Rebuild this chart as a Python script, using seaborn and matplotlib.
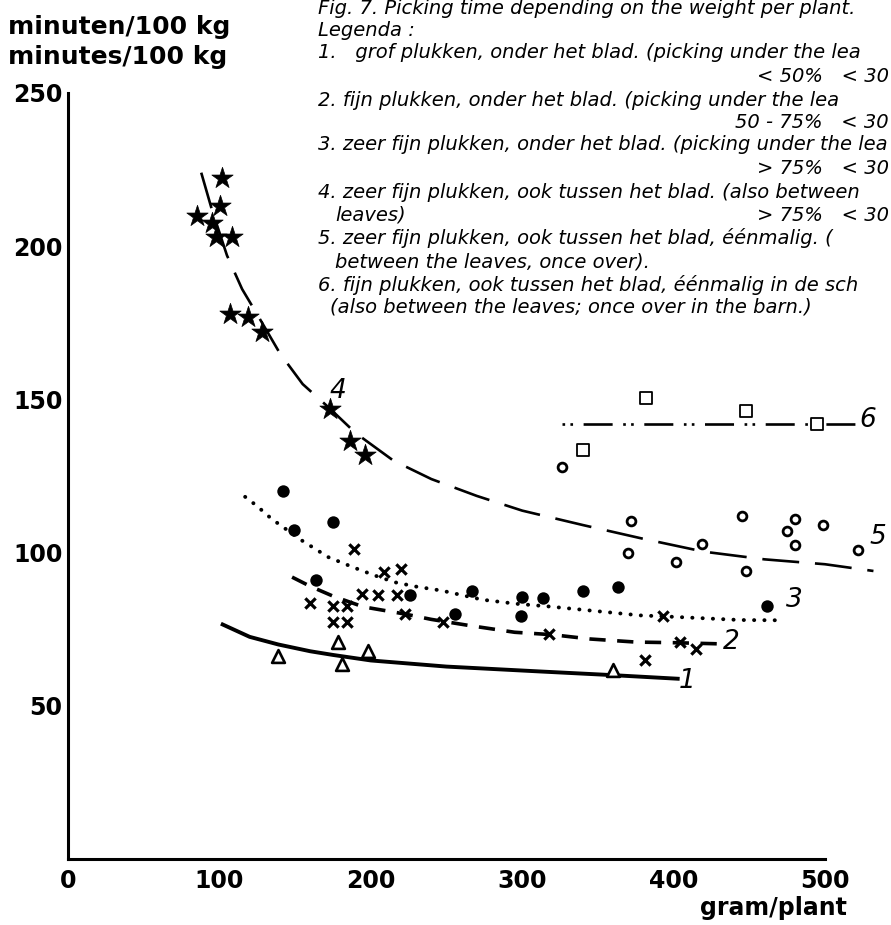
import numpy as np
import pandas as pd
import matplotlib
matplotlib.use("Agg")
import matplotlib.pyplot as plt
import seaborn as sns

# ---------------- data ----------------
# 1: grof plukken (triangles, solid curve)
s1_x = [139, 178.5, 181, 198, 360]
s1_y = [66.2, 70.8, 63.5, 67.8, 61.6]
c1_x = [101, 120, 139, 160, 175, 200, 250, 312, 360, 404]
c1_y = [76.8, 72.5, 70.0, 67.8, 66.6, 64.8, 62.8, 61.2, 60.0, 58.8]

# 2: fijn plukken (x markers, dashed curve)
s2_x = [160, 175, 184.5, 175, 184.5, 189, 194, 205, 208.7, 217, 220, 222.6, 248, 318, 381, 393, 404, 415]
s2_y = [83.6, 82.7, 82.7, 77.3, 77.3, 101.2, 86.5, 86.3, 93.8, 86.0, 94.7, 80.0, 77.5, 73.5, 64.8, 79.2, 70.8, 68.6]
c2_x = [148, 160, 175, 195, 222, 240, 265, 295, 320, 345, 375, 400, 432]
c2_y = [92.0, 89.0, 85.8, 82.3, 80.0, 78.2, 76.2, 74.0, 73.2, 71.8, 70.8, 70.6, 70.2]

# 3: zeer fijn, onder het blad (filled circles, dotted curve)
s3_x = [142, 149.5, 175, 164, 226, 255.6, 266.6, 299.7, 299, 314, 340, 363.5, 461.5]
s3_y = [120.2, 107.4, 110.0, 90.9, 86.0, 80.0, 87.4, 85.4, 79.3, 85.2, 87.6, 88.7, 82.7]
c3_x = [117, 124.6, 134.5, 154, 172, 188.4, 202.8, 216, 230, 246.8, 274, 296, 318, 378, 393, 444, 472.5]
c3_y = [118.2, 115.3, 111.0, 104.1, 98.5, 95.2, 92.5, 90.3, 88.9, 87.6, 84.6, 83.3, 82.4, 79.5, 79.2, 78.0, 77.9]

# 4: zeer fijn, ook tussen het blad (stars) ; 4/5 long-dash curve
s4_x = [101.5, 100.4, 85, 95, 98, 108, 107, 119, 128, 173, 186, 196]
s4_y = [222.3, 213.0, 209.8, 207.6, 203.0, 203.0, 177.8, 177.0, 172.0, 147.0, 136.5, 132.0]
c4_x = [88, 95, 105, 115, 125, 140, 155, 173, 190, 215, 240, 270, 300, 340, 380, 420, 460, 500, 532]
c4_y = [224, 212, 197, 186, 177.7, 165, 155, 147, 139, 130, 124, 118.5, 113.7, 109, 104.5, 100.3, 97.8, 96.2, 94]

# 5: eenmalig (open circles)
s5_x = [326, 372, 370, 401.6, 418.5, 445, 448, 480, 475, 480, 498.5, 522]
s5_y = [127.8, 110.2, 100.0, 96.8, 102.8, 112.0, 93.9, 111.0, 107.0, 102.6, 109.0, 100.9]

# 6: in de schuur (open squares, dash-dot-dot line)
s6_x = [340, 382, 448, 495]
s6_y = [133.4, 150.6, 146.2, 142.1]
c6_x = [326, 520]
c6_y = [142, 142]

# curve labels
lab_text = ["1", "2", "3", "4", "5", "6"]
lab_x = [409, 438, 480, 178, 535, 528.5]
lab_y = [58, 70.8, 84.4, 152.8, 105, 143.3]

x_ticks = [0, 100, 200, 300, 400, 500]
y_ticks = [50, 100, 150, 200, 250]

legend_lines = [
    "Fig. 7. Picking time depending on the weight per plant.",
    "Legenda :",
    "1.   grof plukken, onder het blad. (picking under the lea",
    "2. fijn plukken, onder het blad. (picking under the lea",
    "3. zeer fijn plukken, onder het blad. (picking under the lea",
    "4. zeer fijn plukken, ook tussen het blad. (also between",
    "leaves)",
    "5. zeer fijn plukken, ook tussen het blad, éénmalig. (",
    "between the leaves, once over).",
    "6. fijn plukken, ook tussen het blad, éénmalig in de sch",
    "(also between the leaves; once over in the barn.)",
]
legend_right = ["< 50%   < 30", "50 - 75%   < 30", "> 75%   < 30", "> 75%   < 30"]

# ---------------- figure ----------------
sns.set_theme(style="white")
plt.rcParams["font.family"] = ["DejaVu Sans"]

W, H = 891, 925
fig = plt.figure(figsize=(W / 100, H / 100), dpi=100)
fig.patch.set_facecolor("white")

def fx(px):
    return px / W

def fy(py):
    return 1 - py / H

ax = fig.add_axes([fx(68), fy(859), fx(825) - fx(68), fy(93) - fy(859)])
ax.set_facecolor("white")
ax.set_xlim(0, 500)
ax.set_ylim(0, 250)

K = "black"
# curves
sns.lineplot(x=c1_x, y=c1_y, ax=ax, color=K, lw=2.8, estimator=None, sort=False,
             solid_capstyle="butt", clip_on=False)
l2 = sns.lineplot(x=c2_x, y=c2_y, ax=ax, color=K, lw=2.6, estimator=None, sort=False, clip_on=False)
ax.lines[-1].set_dashes([4.5, 3.2])
sns.lineplot(x=c3_x, y=c3_y, ax=ax, color=K, lw=2.8, estimator=None, sort=False, clip_on=False)
ax.lines[-1].set_dashes([0.05, 2.6])
ax.lines[-1].set_dash_capstyle("round")
sns.lineplot(x=c4_x, y=c4_y, ax=ax, color=K, lw=1.9, estimator=None, sort=False, clip_on=False)
ax.lines[-1].set_dashes([14, 6])
sns.lineplot(x=c6_x, y=c6_y, ax=ax, color=K, lw=1.9, estimator=None, sort=False, clip_on=False)
ax.lines[-1].set_dashes([1, 2, 1, 4, 11, 4])

# markers
sns.scatterplot(x=s1_x, y=s1_y, ax=ax, marker="^", s=85, facecolor="white",
                edgecolor=K, linewidth=1.9, clip_on=False, zorder=5)
sns.scatterplot(x=s2_x, y=s2_y, ax=ax, marker="x", s=55, color=K,
                linewidth=2.3, clip_on=False, zorder=5)
sns.scatterplot(x=s3_x, y=s3_y, ax=ax, marker="o", s=80, color=K,
                edgecolor=K, linewidth=0, clip_on=False, zorder=5)
sns.scatterplot(x=s4_x, y=s4_y, ax=ax, marker="*", s=260, color=K,
                edgecolor=K, linewidth=0.5, clip_on=False, zorder=5)
sns.scatterplot(x=s5_x, y=s5_y, ax=ax, marker="o", s=40, facecolor="white",
                edgecolor=K, linewidth=2.0, clip_on=False, zorder=5)
sns.scatterplot(x=s6_x, y=s6_y, ax=ax, marker="s", s=80, facecolor="white",
                edgecolor=K, linewidth=1.3, clip_on=False, zorder=5)

for t, xx, yy in zip(lab_text, lab_x, lab_y):
    ax.text(xx, yy, t, fontsize=19, style="italic", ha="center", va="center",
            color=K, clip_on=False)

# axes styling
for side in ["top", "right"]:
    ax.spines[side].set_visible(False)
for side in ["left", "bottom"]:
    ax.spines[side].set_linewidth(2.2)
    ax.spines[side].set_color(K)
ax.set_xticks(x_ticks)
ax.set_yticks(y_ticks)
ax.set_xticklabels([str(v) for v in x_ticks])
ax.set_yticklabels([str(v) for v in y_ticks])
ax.tick_params(axis="both", direction="in", length=7, width=1.8, color=K,
               labelsize=17, labelcolor=K)
ax.tick_params(axis="x", pad=7)
ax.tick_params(axis="y", pad=4)
for lab in ax.get_xticklabels() + ax.get_yticklabels():
    lab.set_fontweight("bold")
ax.set_xlabel("")
ax.set_ylabel("")
ax.grid(False)

# header / axis titles
fig.text(fx(8), fy(27), "minuten/100 kg", fontsize=18, fontweight="bold",
         ha="left", va="center", color=K)
fig.text(fx(8), fy(57), "minutes/100 kg", fontsize=18, fontweight="bold",
         ha="left", va="center", color=K)
fig.text(fx(847), fy(908), "gram/plant", fontsize=17, fontweight="bold",
         ha="right", va="center", color=K)

# legend block
left_x = [318, 318, 318, 318, 318, 318, 335, 318, 335, 318, 330]
left_y = [9, 30, 53, 100, 145, 192, 215, 238, 262, 285, 307]
for t, xx, yy in zip(legend_lines, left_x, left_y):
    fig.text(fx(xx), fy(yy), t, fontsize=14, style="italic", ha="left",
             va="center", color=K)
right_y = [77, 123, 168, 215]
for t, yy in zip(legend_right, right_y):
    fig.text(fx(889), fy(yy), t, fontsize=14, style="italic", ha="right",
             va="center", color=K)

fig.savefig("out.png", dpi=100, facecolor="white")
